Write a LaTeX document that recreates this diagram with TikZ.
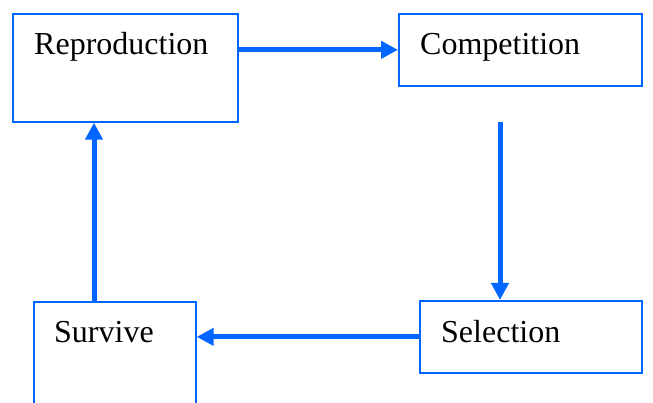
\documentclass[tikz,border=0pt]{standalone}
\usepackage{fontspec}
\setmainfont{Liberation Serif}
\usepackage{tikz}
\usetikzlibrary{calc}
\usetikzlibrary{arrows.meta}
\definecolor{flowblue}{RGB}{0,102,255}
\tikzset{
  stagebox/.style={draw=flowblue, line width=1.7pt, rectangle, anchor=north west, inner sep=0pt},
  stagetext/.style={anchor=base west, inner sep=0pt, font=\fontsize{32}{38}\selectfont},
  flow/.style={draw=flowblue, line width=5pt, -{Triangle[length=17pt,width=17pt]}}
}

\begin{document}
\begin{tikzpicture}[x=1pt, y=-1pt]
        \useasboundingbox (0,0) rectangle (653,403);
        \clip (0,0) rectangle (653,403);
        % boxes
        \node[stagebox, minimum width=225pt, minimum height=108pt] (repro) at (12,13) {};
        \node[stagebox, minimum width=243pt, minimum height=72pt] (comp) at (398,13) {};
        \node[stagebox, minimum width=222pt, minimum height=72pt] (sel) at (419,300) {};
        \node[stagebox, minimum width=162pt, minimum height=108pt] (surv) at (33,301) {};
        % texts
        \node[stagetext] (reprotxt) at ($(repro.north west)+(22,42)$) {Reproduction};
        \node[stagetext] (comptxt) at ($(comp.north west)+(22,42)$) {Competition};
        \node[stagetext] (seltxt) at ($(sel.north west)+(22,42)$) {Selection};
        \node[stagetext] (survtxt) at ($(surv.north west)+(21,41)$) {Survive};
        % arrows
        \coordinate (compdown) at (500,122);
        \coordinate (survup) at (94,0);
        \draw[flow] (comp.west -| repro.east) -- (comp.west);
        \draw[flow] (compdown) -- (compdown |- sel.north);
        \draw[flow] (sel.west) -- (sel.west -| surv.east);
        \draw[flow] (survup |- surv.north) -- (survup |- repro.south);
    \end{tikzpicture}
\end{document}
